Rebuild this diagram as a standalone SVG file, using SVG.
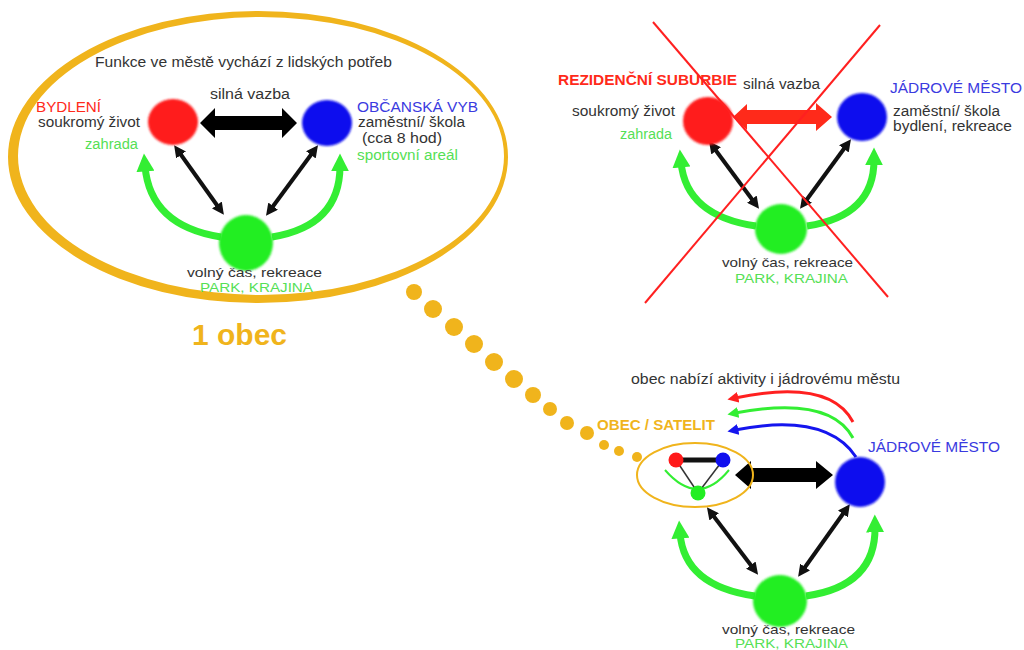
<svg xmlns="http://www.w3.org/2000/svg" width="1024" height="650" viewBox="0 0 1024 650">
<style>
text{font-family:"Liberation Sans",Arial,sans-serif;font-size:14px;fill:#333}
.r{fill:#ff2a1a}.b{fill:#3a3ae0}.g{fill:#55e055}.o{fill:#f0b41c}
.bold{font-weight:bold}
.sm{font-size:13px}
.big{font-size:30px;font-weight:bold}
.blk{stroke:#111;stroke-width:4;fill:none;marker-start:url(#ka);marker-end:url(#ka)}
.grn{stroke:#33ee33;stroke-width:7;fill:none;marker-end:url(#ga)}
</style>
<defs>
<marker id="ka" viewBox="0 0 10 10" refX="3" refY="5" markerWidth="12" markerHeight="12" markerUnits="userSpaceOnUse" orient="auto-start-reverse"><path d="M0,0 L10,5 L0,10 Z" fill="#111"/></marker>
<marker id="ga" viewBox="0 0 10 10" refX="3" refY="5" markerWidth="18" markerHeight="18" markerUnits="userSpaceOnUse" orient="auto"><path d="M0,0 L10,5 L0,10 Z" fill="#33ee33"/></marker>
<marker id="ra" viewBox="0 0 10 10" refX="3" refY="5" markerWidth="11" markerHeight="11" markerUnits="userSpaceOnUse" orient="auto"><path d="M0,0 L10,5 L0,10 Z" fill="#ff2020"/></marker>
<marker id="gs" viewBox="0 0 10 10" refX="3" refY="5" markerWidth="11" markerHeight="11" markerUnits="userSpaceOnUse" orient="auto"><path d="M0,0 L10,5 L0,10 Z" fill="#33ee33"/></marker>
<marker id="bs" viewBox="0 0 10 10" refX="3" refY="5" markerWidth="11" markerHeight="11" markerUnits="userSpaceOnUse" orient="auto"><path d="M0,0 L10,5 L0,10 Z" fill="#1515ee"/></marker>
<filter id="soft" x="-20%" y="-20%" width="140%" height="140%"><feGaussianBlur stdDeviation="0.8"/></filter>
</defs>

<!-- big orange ellipse and dots -->
<g id="obec-ellipse">
<path fill="#f0b41c" fill-rule="evenodd" d="M8,157 A250,146 0 1,0 508,157 A250,146 0 1,0 8,157 Z M18,156 A243,139 0 1,1 504,156 A243,139 0 1,1 18,156 Z"/>
<text x="95" y="67" textLength="297" lengthAdjust="spacingAndGlyphs">Funkce ve městě vychází z lidských potřeb</text>
<text x="192" y="345" class="o big" textLength="95" lengthAdjust="spacingAndGlyphs">1 obec</text>
</g>
<g id="dots" fill="#f0b41c">
<circle cx="414" cy="292" r="8"/><circle cx="433" cy="309" r="9"/><circle cx="454" cy="327" r="9"/>
<circle cx="474" cy="344" r="9"/><circle cx="494" cy="362" r="9"/><circle cx="514" cy="379" r="9"/>
<circle cx="533" cy="395" r="8"/><circle cx="550" cy="409" r="7"/><circle cx="567" cy="423" r="7"/>
<circle cx="587" cy="433" r="7"/><circle cx="604" cy="445" r="5"/><circle cx="619" cy="451" r="5"/>
<circle cx="637" cy="457" r="5"/>
</g>

<g id="connectors">
<!-- top-left -->
<path fill="#000" d="M200,123 L215,108 L215,116 L282,116 L282,108 L297,123 L282,138 L282,130 L215,130 L215,138 Z"/>
<line class="blk" x1="179" y1="152" x2="219" y2="208"/>
<line class="blk" x1="313" y1="152" x2="271" y2="209"/>
<path class="grn" d="M221,237 Q150,226 145,166"/>
<path class="grn" d="M272,237 Q340,226 340,166"/>
<!-- top-right -->
<path fill="#ff2a1a" d="M733,117 L747,104 L747,110 L816,110 L816,103 L832,117 L816,131 L816,124 L747,124 L747,130 Z"/>
<line class="blk" x1="714" y1="148" x2="754" y2="202"/>
<line class="blk" x1="846" y1="146" x2="805" y2="202"/>
<path class="grn" d="M756,226 Q686,216 681,162"/>
<path class="grn" d="M807,226 Q874,216 874,160"/>
<!-- bottom-right -->
<path fill="#000" d="M735,475 L751,461 L751,468 L816,468 L816,461 L833,475 L816,489 L816,482 L751,482 L751,489 Z"/>
<line class="blk" x1="712" y1="514" x2="753" y2="568"/>
<line class="blk" x1="845" y1="511" x2="803" y2="570"/>
<path class="grn" d="M755,596 Q684,586 680,533"/>
<path class="grn" d="M806,596 Q876,586 875,527"/>
<path d="M853,422 Q830,378 735,398" stroke="#ff2020" stroke-width="3" fill="none" marker-end="url(#ra)"/>
<path d="M853,438 Q830,395 735,413" stroke="#33ee33" stroke-width="3" fill="none" marker-end="url(#gs)"/>
<path d="M856,457 Q826,412 735,430" stroke="#1515ee" stroke-width="3" fill="none" marker-end="url(#bs)"/>
</g>

<!-- top-left nodes -->
<g id="tl-bydleni">
<ellipse cx="173" cy="122" rx="25" ry="23" fill="#ff1a1a" filter="url(#soft)"/>
<text x="36" y="112" class="r" textLength="65" lengthAdjust="spacingAndGlyphs">BYDLENÍ</text>
<text x="38" y="127" textLength="102" lengthAdjust="spacingAndGlyphs">soukromý život</text>
<text x="85" y="149" class="g" textLength="53" lengthAdjust="spacingAndGlyphs">zahrada</text>
</g>
<g id="tl-obcanska">
<ellipse cx="327" cy="123" rx="25" ry="23" fill="#1010ee" filter="url(#soft)"/>
<text x="357" y="112" class="b" textLength="121" lengthAdjust="spacingAndGlyphs">OBČANSKÁ VYB</text>
<text x="358" y="127" textLength="107" lengthAdjust="spacingAndGlyphs">zaměstní/ škola</text>
<text x="362" y="143" textLength="80" lengthAdjust="spacingAndGlyphs">(cca 8 hod)</text>
<text x="357" y="160" class="g" textLength="101" lengthAdjust="spacingAndGlyphs">sportovní areál</text>
</g>
<g id="tl-volny">
<ellipse cx="246" cy="243" rx="27" ry="28" fill="#22ee22" filter="url(#soft)"/>
<text x="187" y="277" class="sm" textLength="135" lengthAdjust="spacingAndGlyphs">volný čas, rekreace</text>
<text x="200" y="292" class="g sm" textLength="113" lengthAdjust="spacingAndGlyphs">PARK, KRAJINA</text>
</g>
<text x="210" y="99" textLength="80" lengthAdjust="spacingAndGlyphs">silná vazba</text>

<!-- top-right nodes -->
<g id="tr-suburbie">
<ellipse cx="708" cy="121" rx="25" ry="24" fill="#ff1a1a" filter="url(#soft)"/>
<text x="558" y="85" class="r bold" textLength="179" lengthAdjust="spacingAndGlyphs">REZIDENČNÍ SUBURBIE</text>
<text x="572" y="116" textLength="103" lengthAdjust="spacingAndGlyphs">soukromý život</text>
<text x="620" y="139" class="g" textLength="52" lengthAdjust="spacingAndGlyphs">zahrada</text>
</g>
<g id="tr-jadrove">
<ellipse cx="862" cy="117" rx="25" ry="24" fill="#1010ee" filter="url(#soft)"/>
<text x="890" y="93" class="b" textLength="132" lengthAdjust="spacingAndGlyphs">JÁDROVÉ MĚSTO</text>
<text x="893" y="116" textLength="107" lengthAdjust="spacingAndGlyphs">zaměstní/ škola</text>
<text x="893" y="131" textLength="119" lengthAdjust="spacingAndGlyphs">bydlení, rekreace</text>
</g>
<g id="tr-volny">
<ellipse cx="781" cy="229" rx="26" ry="25" fill="#22ee22" filter="url(#soft)"/>
<text x="722" y="267" class="sm" textLength="131" lengthAdjust="spacingAndGlyphs">volný čas, rekreace</text>
<text x="735" y="283" class="g sm" textLength="113" lengthAdjust="spacingAndGlyphs">PARK, KRAJINA</text>
</g>
<text x="743" y="89" textLength="77" lengthAdjust="spacingAndGlyphs">silná vazba</text>
<g id="cross" stroke="#ff2020" stroke-width="2">
<line x1="653" y1="22" x2="888" y2="297"/>
<line x1="880" y1="25" x2="645" y2="303"/>
</g>

<!-- bottom-right nodes -->
<g id="br-satelit">
<ellipse cx="695" cy="475" rx="58" ry="32" fill="none" stroke="#f0b41c" stroke-width="2"/>
<path d="M665,470 Q698,508 729,470" fill="none" stroke="#33ee33" stroke-width="2"/>
<line x1="676" y1="460" x2="723" y2="460" stroke="#111" stroke-width="5"/>
<line x1="676" y1="460" x2="698" y2="493" stroke="#333" stroke-width="1.5"/>
<line x1="723" y1="460" x2="698" y2="493" stroke="#333" stroke-width="1.5"/>
<circle cx="676" cy="460" r="7.5" fill="#ff1a1a"/>
<circle cx="723" cy="460" r="7.5" fill="#1010ee"/>
<circle cx="698" cy="493" r="7.5" fill="#22ee22"/>
<text x="597" y="430" class="o bold" textLength="118" lengthAdjust="spacingAndGlyphs">OBEC / SATELIT</text>
</g>
<g id="br-jadrove">
<ellipse cx="860" cy="482" rx="25" ry="25" fill="#1010ee" filter="url(#soft)"/>
<text x="868" y="452" class="b" textLength="132" lengthAdjust="spacingAndGlyphs">JÁDROVÉ MĚSTO</text>
</g>
<g id="br-volny">
<ellipse cx="780" cy="601" rx="27" ry="26" fill="#22ee22" filter="url(#soft)"/>
<text x="722" y="634" class="sm" textLength="133" lengthAdjust="spacingAndGlyphs">volný čas, rekreace</text>
<text x="735" y="648" class="g sm" textLength="113" lengthAdjust="spacingAndGlyphs">PARK, KRAJINA</text>
</g>
<text x="631" y="384" textLength="269" lengthAdjust="spacingAndGlyphs">obec nabízí aktivity i jádrovému městu</text>
</svg>
